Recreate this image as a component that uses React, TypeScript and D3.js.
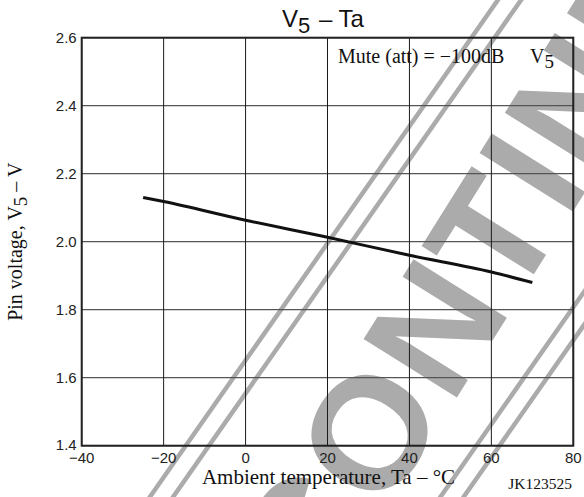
import * as d3 from "d3";

const tempC = [-25, -20, 0, 20, 40, 60, 70];
const pinVoltage = [2.13, 2.118, 2.063, 2.013, 1.96, 1.911, 1.88];

const xTicks = [-40, -20, 0, 20, 40, 60, 80];
const yTicks = [1.4, 1.6, 1.8, 2.0, 2.2, 2.4, 2.6];

const watermarkWord = "DISCONTINUED";
const watermarkBands = [-132, -113, 106, 125];

const SANS = "'Liberation Sans', Arial, Helvetica, sans-serif";
const SERIF = "'Liberation Serif', 'Times New Roman', Times, serif";

export default function App() {
  const width = 584;
  const height = 497;
  // plot box
  const plot = { left: 81.7, right: 573.3, top: 37.7, bottom: 445.7 };

  const x = d3.scaleLinear().domain([-40, 80]).range([plot.left, plot.right]);
  const y = d3.scaleLinear().domain([1.4, 2.6]).range([plot.bottom, plot.top]);

  const pts = tempC.map((t, i) => [t, pinVoltage[i]] as [number, number]);
  const line = d3
    .line<[number, number]>()
    .x((d) => x(d[0]))
    .y((d) => y(d[1]))
    .curve(d3.curveMonotoneX);

  const wmColor = "#ababab";
  const cx = (plot.left + plot.right) / 2;
  const cy = (plot.top + plot.bottom) / 2;

  return (
    <svg
      width={width}
      height={height}
      style={{ position: "absolute", left: 0, top: 0, background: "#fff" }}
    >
      {/* watermark, under everything */}
      <g transform="translate(311,497) rotate(-55)">
        {watermarkBands.map((v) => (
          <line key={v} x1={-700} x2={700} y1={v} y2={v} stroke={wmColor} strokeWidth={4.5} />
        ))}
      </g>
      <g transform="translate(368,432) rotate(-58)">
        <text
          x={-456}
          y={57}
          fontFamily={SANS}
          fontWeight="bold"
          fontSize={160}
          letterSpacing={3}
          fill={wmColor}
        >
          {watermarkWord}
        </text>
      </g>

      {/* grid */}
      {yTicks.map((t) => (
        <line
          key={"h" + t}
          x1={plot.left}
          x2={plot.right}
          y1={y(t)}
          y2={y(t)}
          stroke="#555"
          strokeWidth={1.3}
        />
      ))}
      {xTicks.map((t) => (
        <line
          key={"v" + t}
          x1={x(t)}
          x2={x(t)}
          y1={plot.top}
          y2={plot.bottom}
          stroke="#1a1a1a"
          strokeWidth={1}
        />
      ))}
      <rect
        x={plot.left}
        y={plot.top}
        width={plot.right - plot.left}
        height={plot.bottom - plot.top}
        fill="none"
        stroke="#222"
        strokeWidth={2}
      />

      {/* tick labels */}
      {yTicks.map((t, i) => (
        <text
          key={"yl" + t}
          x={plot.left - 5}
          y={y(t) + (i === 0 ? 4 : 5.5)}
          textAnchor="end"
          fontFamily={SANS}
          fontSize={15}
          fill="#222"
        >
          {d3.format(".1f")(t)}
        </text>
      ))}
      {xTicks.map((t) => (
        <text
          key={"xl" + t}
          x={x(t)}
          y={plot.bottom + 17.5}
          textAnchor="middle"
          fontFamily={SANS}
          fontSize={15}
          fill="#222"
        >
          {d3.format("d")(t)}
        </text>
      ))}

      {/* curve */}
      <path d={line(pts) ?? ""} fill="none" stroke="#111" strokeWidth={3} />

      {/* title */}
      <text x={282} y={27} fontFamily={SANS} fontSize={24} fill="#111">
        V<tspan dy={6} fontSize={22}>5</tspan>
        <tspan dy={-6} dx={2}> – Ta</tspan>
      </text>

      {/* condition note */}
      <text x={338} y={63} fontFamily={SERIF} fontSize={20} fill="#111">
        Mute (att) = −100dB
      </text>
      <text x={530} y={63} fontFamily={SERIF} fontSize={20} fill="#111">
        V<tspan dy={5} fontSize={19}>5</tspan>
      </text>

      {/* axis titles */}
      <text
        transform={`translate(22,${cy}) rotate(-90)`}
        textAnchor="middle"
        fontFamily={SERIF}
        fontSize={20}
        fill="#111"
      >
        Pin voltage, V<tspan dy={5} fontSize={19}>5</tspan>
        <tspan dy={-5}> – V</tspan>
      </text>
      <text
        x={cx + 1}
        y={484}
        textAnchor="middle"
        fontFamily={SERIF}
        fontSize={21}
        fill="#111"
      >
        Ambient temperature, Ta – °C
      </text>
      <text x={572} y={489} textAnchor="end" fontFamily={SERIF} fontSize={15.5} fill="#111">
        JK123525
      </text>
    </svg>
  );
}
